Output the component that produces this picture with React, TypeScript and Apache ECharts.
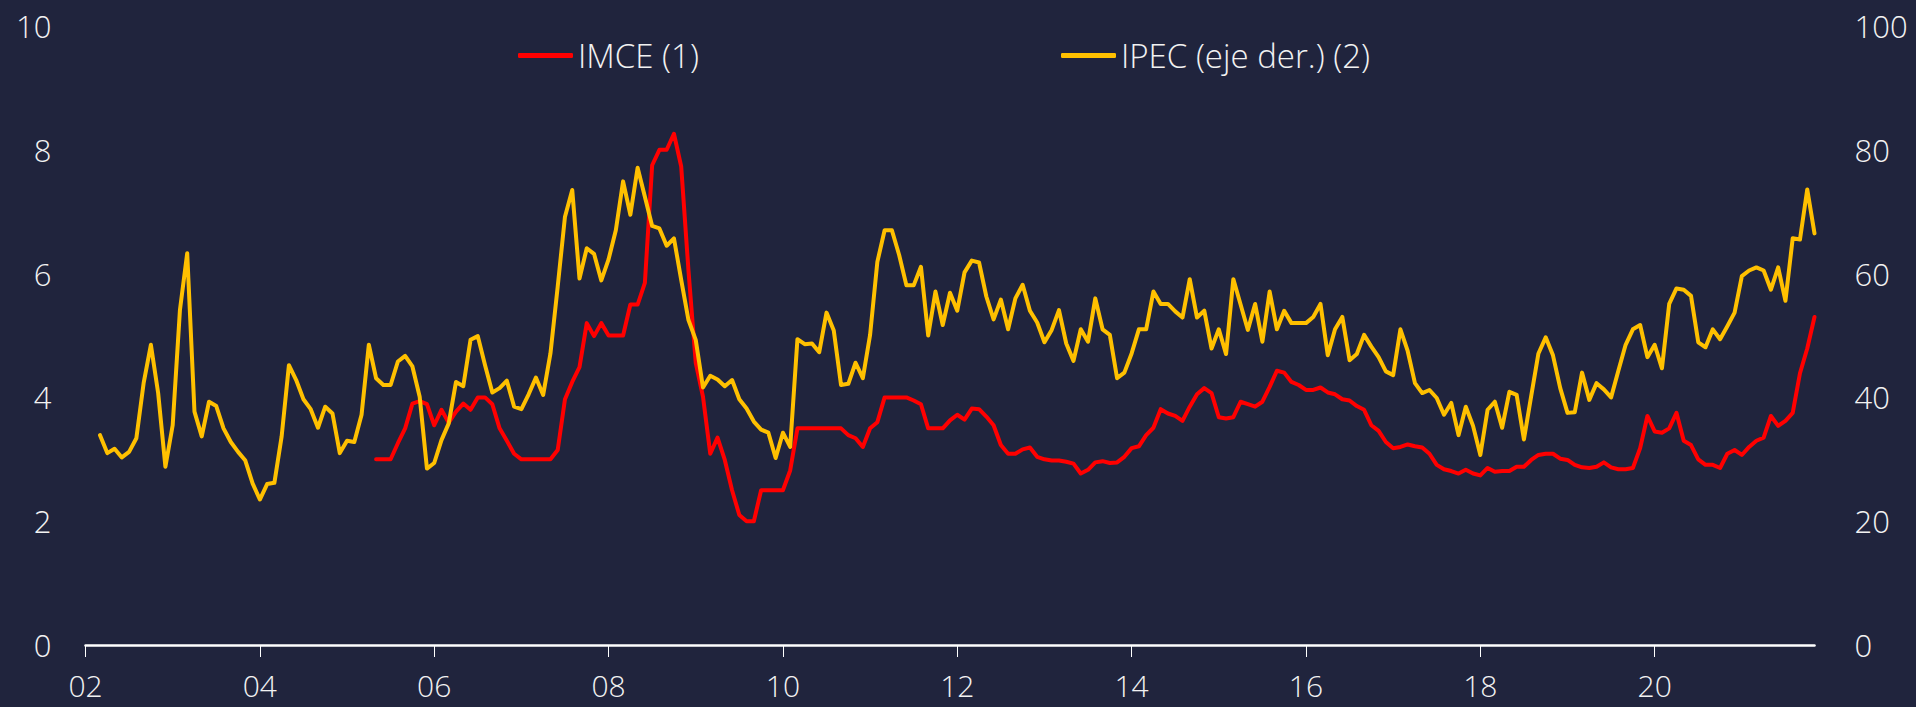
import React, { useEffect, useRef } from "react";
import * as echarts from "echarts";

// Monthly categories: Jan 2002 .. Nov 2021
const startYear = 2002;
const monthCount = 239;
const categories: string[] = [];
for (let i = 0; i < monthCount; i++) {
  const y = startYear + Math.floor(i / 12);
  const m = (i % 12) + 1;
  categories.push(`${y}-${m < 10 ? "0" + m : m}`);
}

const seriesNames = ["IMCE (1)", "IPEC (eje der.) (2)"];

// IMCE (left axis)
const imce: (number | null)[] = [
  // 2002-2004
  null, null, null, null, null, null, null, null, null, null, null, null,
  null, null, null, null, null, null, null, null, null, null, null, null,
  null, null, null, null, null, null, null, null, null, null, null, null,
  // 2005
  null, null, null, null, 3.0, 3.0, 3.0, 3.26, 3.5, 3.9, 3.94, 3.89,
  // 2006
  3.55, 3.8, 3.59, 3.77, 3.9, 3.8, 4.0, 4.0, 3.89, 3.5, 3.3, 3.09,
  // 2007
  3.0, 3.0, 3.0, 3.0, 3.0, 3.15, 3.97, 4.25, 4.49, 5.2, 4.99, 5.2,
  // 2008
  5.0, 5.0, 5.0, 5.5, 5.5, 5.85, 7.75, 8.0, 8.0, 8.26, 7.73, 6.05,
  // 2009
  4.56, 4.01, 3.09, 3.35, 2.99, 2.5, 2.1, 2.0, 2.0, 2.5, 2.5, 2.5,
  // 2010
  2.5, 2.82, 3.5, 3.5, 3.5, 3.5, 3.5, 3.5, 3.5, 3.39, 3.34, 3.2,
  // 2011
  3.5, 3.6, 4.0, 4.0, 4.0, 4.0, 3.95, 3.89, 3.5, 3.5, 3.5, 3.63,
  // 2012
  3.72, 3.64, 3.82, 3.81, 3.69, 3.55, 3.23, 3.09, 3.09, 3.16, 3.19, 3.04,
  // 2013
  3.0, 2.98, 2.98, 2.96, 2.93, 2.77, 2.83, 2.95, 2.97, 2.94, 2.95, 3.04,
  // 2014
  3.18, 3.21, 3.39, 3.51, 3.81, 3.74, 3.7, 3.62, 3.85, 4.05, 4.15, 4.07,
  // 2015
  3.68, 3.66, 3.68, 3.93, 3.89, 3.85, 3.93, 4.17, 4.43, 4.4, 4.25, 4.2,
  // 2016
  4.12, 4.12, 4.16, 4.08, 4.05, 3.97, 3.95, 3.86, 3.8, 3.55, 3.46, 3.28,
  // 2017
  3.18, 3.2, 3.24, 3.21, 3.19, 3.09, 2.91, 2.84, 2.81, 2.77, 2.83, 2.77,
  // 2018
  2.74, 2.86, 2.8, 2.81, 2.81, 2.88, 2.88, 2.99, 3.07, 3.09, 3.09, 3.01,
  // 2019
  2.99, 2.91, 2.87, 2.86, 2.88, 2.95, 2.87, 2.84, 2.84, 2.86, 3.18, 3.7,
  // 2020
  3.45, 3.43, 3.5, 3.75, 3.3, 3.23, 3.0, 2.91, 2.91, 2.86, 3.09, 3.15,
  // 2021
  3.07, 3.2, 3.3, 3.35, 3.7, 3.54, 3.62, 3.75, 4.39, 4.79, 5.3,
];

// IPEC (right axis)
const ipec: (number | null)[] = [
  // 2002
  null, null, 33.9, 31.0, 31.7, 30.3, 31.2, 33.4, 42.3, 48.5, 40.7, 28.8,
  // 2003
  35.5, 54.1, 63.3, 37.7, 33.7, 39.3, 38.6, 35.0, 32.8, 31.2, 29.8, 26.1,
  // 2004
  23.5, 26.0, 26.2, 33.7, 45.2, 42.8, 39.7, 38.1, 35.1, 38.5, 37.4, 31.0,
  // 2005
  33.0, 32.8, 37.2, 48.5, 43.1, 42.0, 42.0, 45.8, 46.7, 45.0, 40.1, 28.5,
  // 2006
  29.4, 33.1, 35.8, 42.5, 41.8, 49.3, 49.9, 45.2, 40.8, 41.5, 42.7, 38.5,
  // 2007
  38.1, 40.5, 43.2, 40.4, 47.1, 57.9, 69.2, 73.5, 59.2, 64.1, 63.2, 58.9,
  // 2008
  62.3, 67.0, 74.9, 69.5, 77.1, 72.4, 67.7, 67.3, 64.5, 65.7, 59.0, 52.5,
  // 2009
  49.3, 41.6, 43.5, 42.9, 41.8, 42.8, 39.7, 38.2, 36.1, 34.8, 34.3, 30.2,
  // 2010
  34.3, 32.0, 49.4, 48.6, 48.7, 47.3, 53.7, 50.8, 42.0, 42.2, 45.6, 43.1,
  // 2011
  50.1, 61.9, 67.0, 67.0, 63.0, 58.1, 58.1, 61.1, 50.0, 57.1, 51.7, 56.9,
  // 2012
  54.0, 60.2, 62.1, 61.8, 56.3, 52.6, 55.8, 51.0, 56.0, 58.2, 54.0, 52.1,
  // 2013
  48.9, 50.9, 54.1, 48.7, 45.9, 51.0, 49.0, 56.0, 51.0, 50.1, 43.1, 44.0,
  // 2014
  47.1, 51.0, 51.0, 57.1, 55.1, 55.1, 53.9, 52.9, 59.1, 52.9, 54.0, 47.9,
  // 2015
  51.0, 47.0, 59.1, 55.0, 50.9, 55.1, 49.0, 57.1, 51.0, 54.0, 52.0, 52.0,
  // 2016
  52.0, 53.0, 55.1, 46.8, 51.0, 53.0, 46.0, 47.0, 50.1, 48.2, 46.5, 44.2,
  // 2017
  43.6, 51.0, 47.5, 42.3, 40.7, 41.2, 39.9, 37.2, 39.1, 33.9, 38.5, 35.4,
  // 2018
  30.7, 38.0, 39.3, 35.1, 40.9, 40.4, 33.2, 40.2, 47.1, 49.7, 46.8, 41.5,
  // 2019
  37.5, 37.6, 44.0, 39.6, 42.3, 41.3, 40.0, 44.3, 48.5, 51.0, 51.7, 46.5,
  // 2020
  48.5, 44.7, 55.1, 57.6, 57.4, 56.4, 48.9, 48.1, 51.0, 49.4, 51.5, 53.7,
  // 2021
  59.6, 60.5, 61.0, 60.5, 57.4, 61.0, 55.6, 65.7, 65.5, 73.6, 66.5,
];

const FONT = "'Open Sans', 'Noto Sans', sans-serif";
const TEXT_COLOR = "#F2F2F2";

export default function App() {
  const ref = useRef<HTMLDivElement>(null);

  useEffect(() => {
    if (!ref.current) return;
    const chart = echarts.init(ref.current, undefined, { renderer: "svg" });
    const tickEvery = (index: number) => index % 24 === 0;
    const legendText = {
      color: TEXT_COLOR,
      fontSize: 33,
      fontWeight: 300,
      fontFamily: FONT,
    };
    chart.setOption({
      animation: false,
      backgroundColor: "#20243D",
      textStyle: { fontFamily: FONT },
      grid: { left: 85.5, right: 101.5, top: 26, bottom: 62, containLabel: false },
      legend: [
        {
          data: [seriesNames[0]],
          left: 518,
          top: 39,
          padding: 0,
          itemWidth: 55,
          itemHeight: 5,
          itemGap: 0,
          icon: "roundRect",
          textStyle: legendText,
        },
        {
          data: [seriesNames[1]],
          left: 1061,
          top: 39,
          padding: 0,
          itemWidth: 55,
          itemHeight: 5,
          itemGap: 0,
          icon: "roundRect",
          textStyle: legendText,
        },
      ],
      xAxis: {
        type: "category",
        data: categories,
        boundaryGap: false,
        axisLine: { show: true, lineStyle: { color: "#FFFFFF", width: 2.5 } },
        axisTick: { show: true, interval: tickEvery, length: 12, lineStyle: { color: "#FFFFFF", width: 1 } },
        axisLabel: {
          interval: tickEvery,
          formatter: (v: string) => v.slice(2, 4),
          color: TEXT_COLOR,
          fontSize: 30,
          fontWeight: 300,
          fontFamily: FONT,
          lineHeight: 24,
          margin: 28,
        },
        splitLine: { show: false },
      },
      yAxis: [
        {
          type: "value",
          min: 0,
          max: 10,
          interval: 2,
          position: "left",
          axisLine: { show: false },
          axisTick: { show: false },
          splitLine: { show: false },
          axisLabel: { color: TEXT_COLOR, fontSize: 31, fontWeight: 300, fontFamily: FONT, margin: 34 },
        },
        {
          type: "value",
          min: 0,
          max: 100,
          interval: 20,
          position: "right",
          axisLine: { show: false },
          axisTick: { show: false },
          splitLine: { show: false },
          axisLabel: { color: TEXT_COLOR, fontSize: 31, fontWeight: 300, fontFamily: FONT, margin: 40 },
        },
      ],
      series: [
        {
          name: seriesNames[0],
          type: "line",
          yAxisIndex: 0,
          data: imce,
          showSymbol: false,
          symbol: "none",
          connectNulls: false,
          color: "#FF0000",
          lineStyle: { color: "#FF0000", width: 4, cap: "round", join: "round" },
        },
        {
          name: seriesNames[1],
          type: "line",
          yAxisIndex: 1,
          data: ipec,
          showSymbol: false,
          symbol: "none",
          connectNulls: false,
          color: "#FFC000",
          lineStyle: { color: "#FFC000", width: 4, cap: "round", join: "round" },
        },
      ],
    });
    return () => chart.dispose();
  }, []);

  return (
    <div
      ref={ref}
      style={{ position: "fixed", left: 0, top: 0, width: 1916, height: 707 }}
    />
  );
}
